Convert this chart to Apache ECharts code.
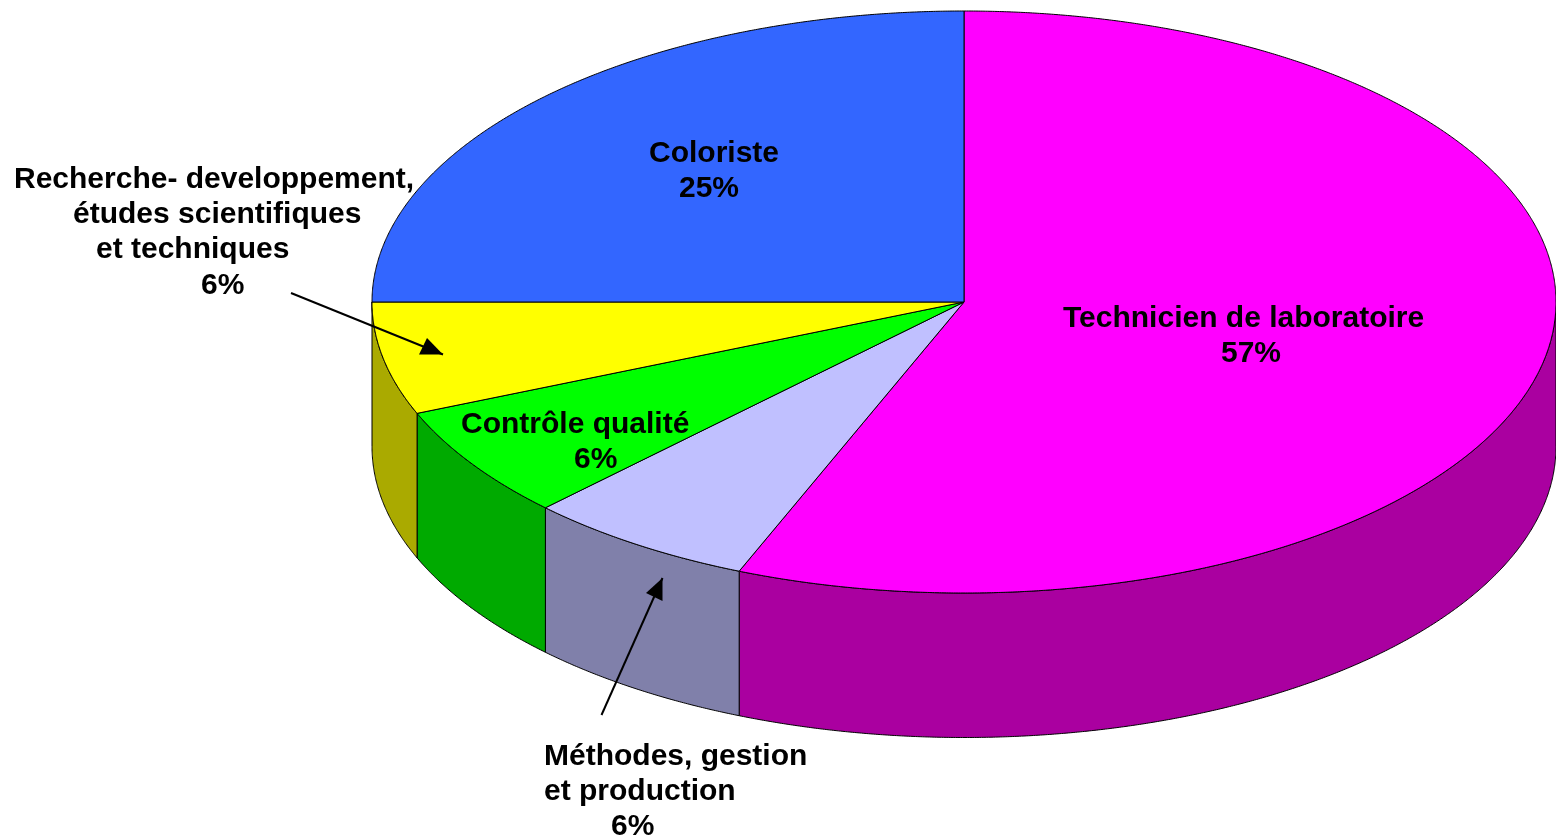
<!DOCTYPE html>
<html><head><meta charset="utf-8">
<style>html,body{margin:0;padding:0;background:#fff;overflow:hidden}#c{width:1556px;height:838px}</style>
<script src="https://cdn.jsdelivr.net/npm/echarts@6/dist/echarts.min.js"></script>
</head><body><div id="c"></div>
<script>
// Data (clockwise from 12 o'clock)
const categories = ['Technicien de laboratoire', 'Méthodes, gestion\net production', 'Contrôle qualité', 'Recherche- developpement,\nétudes scientifiques\net techniques', 'Coloriste'];
const sliceValues = [56.2, 6.3, 6.25, 6.25, 25];
const percentLabels = ['57%', '6%', '6%', '6%', '25%'];
const topColors = ['#FF00FF', '#C0C0FF', '#00FF00', '#FFFF00', '#3366FF'];
const sideColors = ['#AA00A0', '#8080AA', '#00AA00', '#AAAA00', '#2244AA'];

// Layout
const W = 1556, H = 838;
const CX = 964, CY = 302, RX = 592, RY = 291, DEPTH = 144.5;
const FONT = 'bold 30px "Liberation Sans", Arial, sans-serif';
// left x and middle y of each text line of each slice label (last line = percentage)
const labelLines = [
  [[1063, 319], [1221, 354]],
  [[544, 757], [544, 792], [611, 827]],
  [[461, 425], [574, 460]],
  [[14, 180], [73, 215], [96, 250], [201, 286]],
  [[649, 154], [679, 189]]
];

const total = sliceValues.reduce((a, b) => a + b, 0);
const starts = [];
sliceValues.reduce((acc, v, i) => { starts[i] = acc; return acc + v; }, 0);
const ang = v => v / total * 2 * Math.PI;
const rim = (a, dy) => [CX + RX * Math.sin(a), CY - RY * Math.cos(a) + (dy || 0)];
function arc(a0, a1, dy) {
  const n = Math.max(2, Math.ceil((a1 - a0) / 0.004)), out = [];
  for (let i = 0; i <= n; i++) out.push(rim(a0 + (a1 - a0) * i / n, dy));
  return out;
}
const toPx = (api, pts) => pts.map(p => api.coord(p));

function renderSide(params, api) {
  const i = params.dataIndex;
  const a0 = Math.max(ang(starts[i]), Math.PI / 2);
  const a1 = Math.min(ang(starts[i] + sliceValues[i]), 3 * Math.PI / 2);
  if (a1 <= a0) return { type: 'group', children: [] };
  const pts = arc(a0, a1, 0).concat(arc(a0, a1, DEPTH).reverse());
  return { type: 'polygon', shape: { points: toPx(api, pts) },
    style: { fill: sideColors[i], stroke: '#000', lineWidth: 1 } };
}
function renderTop(params, api) {
  const i = params.dataIndex;
  const a0 = ang(starts[i]), a1 = ang(starts[i] + sliceValues[i]);
  const pts = [[CX, CY]].concat(arc(a0, a1, 0));
  return { type: 'polygon', shape: { points: toPx(api, pts) },
    style: { fill: topColors[i], stroke: '#000', lineWidth: 1 } };
}
function renderLabel(params, api) {
  const i = params.dataIndex;
  const lines = categories[i].split('\n').concat(percentLabels[i]);
  return { type: 'group', children: lines.map((t, k) => {
    const p = api.coord(labelLines[i][k]);
    return { type: 'text', style: { text: t, x: p[0], y: p[1], font: FONT, fill: '#000', align: 'left', verticalAlign: 'middle' } };
  }) };
}
const rows = sliceValues.map((v, i) => [i, v]);
const chart = echarts.init(document.getElementById('c'), null, { renderer: 'canvas', width: W, height: H });
const base = { type: 'custom', data: rows, silent: true, animation: false, clip: false,
  encode: { x: 0, y: 1 } };
function arrow(x0, y0, tri) {
  const tip = tri[0];
  return [
    { type: 'line', z: 100, silent: true, shape: { x1: x0, y1: y0, x2: tip[0], y2: tip[1] }, style: { stroke: '#000', lineWidth: 2 } },
    { type: 'polygon', z: 100, silent: true, shape: { points: tri }, style: { fill: '#000' } }
  ];
}
chart.setOption({
  backgroundColor: '#fff',
  animation: false,
  grid: { left: 0, right: 0, top: 0, bottom: 0 },
  xAxis: { type: 'value', min: 0, max: W, show: false },
  yAxis: { type: 'value', min: 0, max: H, inverse: true, show: false },
  series: [
    Object.assign({}, base, { renderItem: renderSide, z: 1 }),
    Object.assign({}, base, { renderItem: renderTop, z: 2 }),
    Object.assign({}, base, { renderItem: renderLabel, z: 3 })
  ],
  graphic: { elements: [
    ...arrow(291, 293, [[443, 354.5], [427, 338], [419, 354.5]]),
    ...arrow(601.5, 715, [[662.5, 578], [646, 593], [662.5, 601]])
  ] }
});
</script></body></html>
